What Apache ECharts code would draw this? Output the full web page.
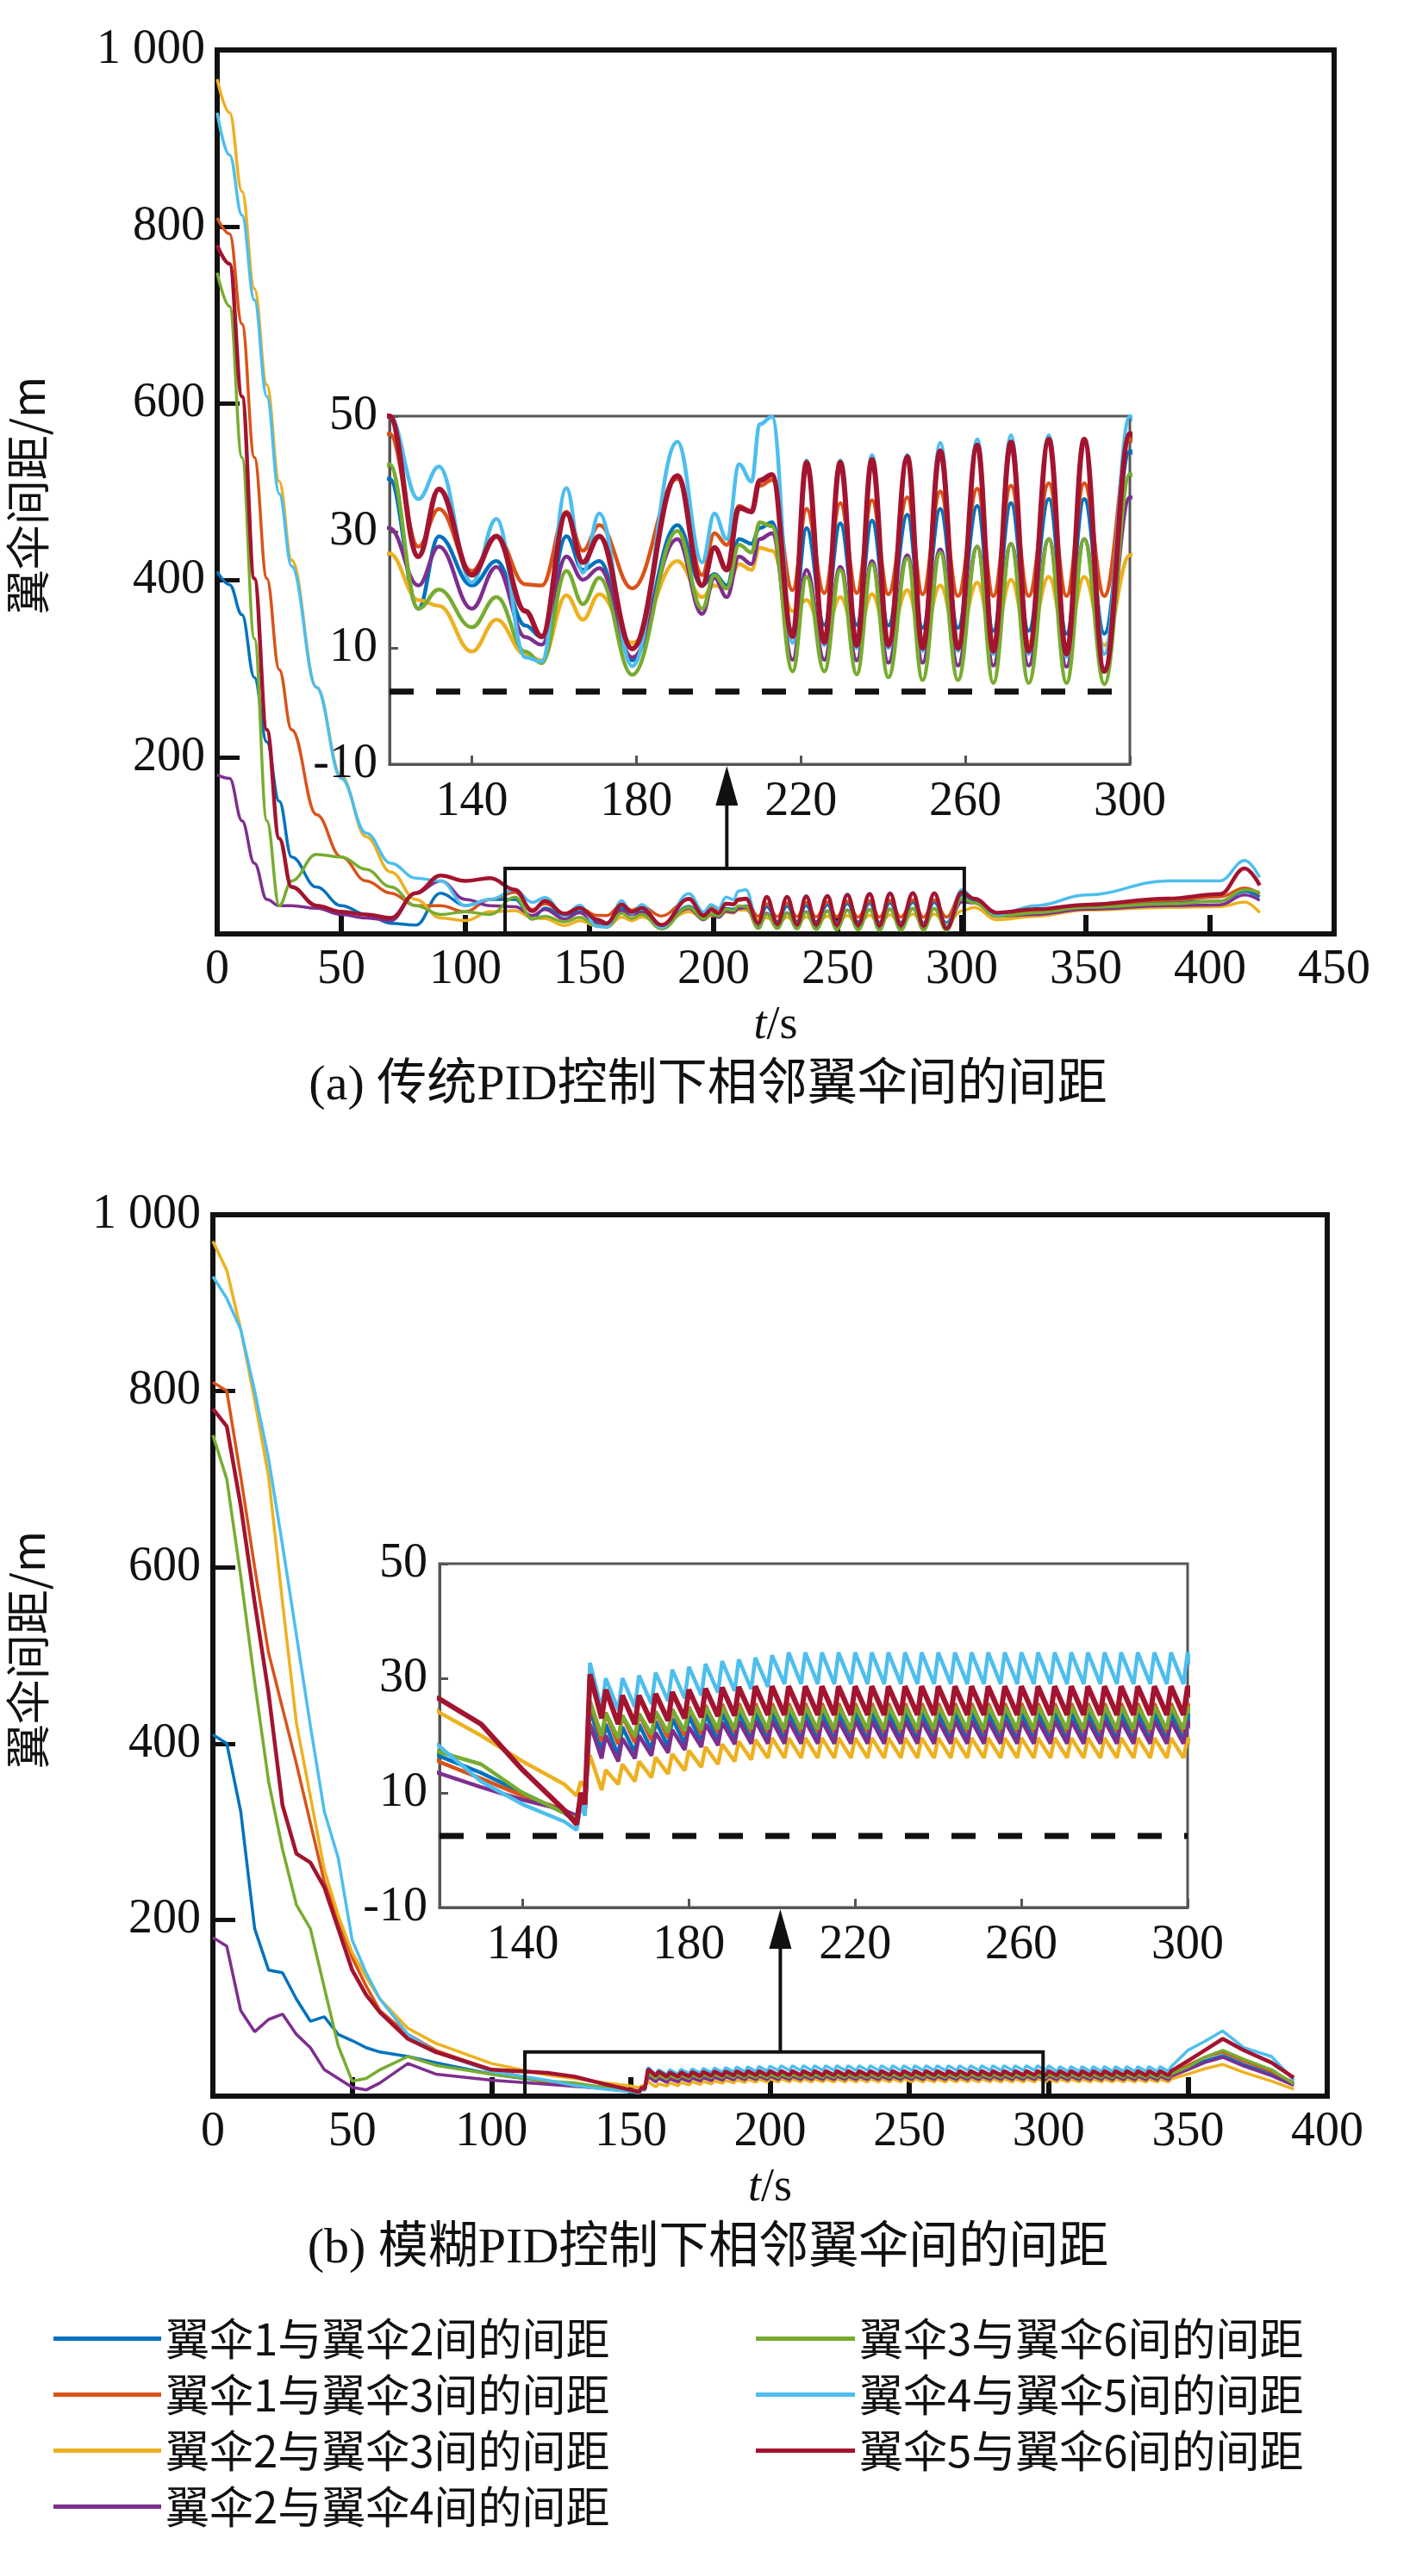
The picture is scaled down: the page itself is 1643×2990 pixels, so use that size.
<!DOCTYPE html>
<html>
<head>
<meta charset="utf-8">
<script src="https://cdn.jsdelivr.net/npm/echarts@6/dist/echarts.min.js"></script>
<style>html,body{margin:0;background:#fff}#c{width:1643px;height:2990px}</style>
</head>
<body>
<div id="c"></div>
<script>
var chart = echarts.init(document.getElementById('c'));

// 系列名称与颜色
var names = ['翼伞1与翼伞2间的间距', '翼伞1与翼伞3间的间距', '翼伞2与翼伞3间的间距', '翼伞2与翼伞4间的间距',
             '翼伞3与翼伞6间的间距', '翼伞4与翼伞5间的间距', '翼伞5与翼伞6间的间距'];
var colors = ['#0072BD', '#D95319', '#EDB120', '#7E2F8E', '#77AC30', '#4DBEEE', '#A2142F'];

// (a) 传统PID 时间点
var tA = [0, 5, 10, 15, 20, 25, 30, 40, 50, 60, 70, 80, 90, 100, 110,
  120, 127, 132, 140, 146, 153, 157, 163, 167, 171, 179, 190, 196, 199, 202, 205, 208, 210, 213, 218,
  221.4, 225.7, 229.6, 233.6, 237.3, 241.3, 245.9, 249.6, 253.9, 258.2, 262.9, 266.8, 271.1, 275.4, 280.3, 284.6, 288.9, 293.8, 300,
  305, 314, 330, 350, 383, 404, 414, 420];
var a12 = [410, 395, 361, 290, 217, 150, 87, 53, 32, 22, 12, 10, 46, 32, 39,
  39.2, 16.8, 29.3, 20.8, 25, 13.9, 11.9, 29.3, 23.5, 25, 7.9, 31.2, 20.8, 22.8, 20.8, 28.8, 28, 30.7, 31.7, 13,
  30.7, 14, 31.5, 14, 32, 13.9, 33, 13.5, 34, 13.5, 34.5, 13, 35, 13, 35.7, 12.5, 35.7, 12.5, 44,
  38, 22, 24, 30, 36, 37, 48, 42];
var a13 = [810, 792, 690, 539, 402, 299, 231, 135, 87, 60, 46, 32, 32, 25, 39,
  47, 27.5, 34, 23.3, 29.3, 21, 20.8, 33.5, 26.8, 31.2, 20.3, 39.2, 22.6, 29.8, 27.8, 34.5, 33.5, 38, 39, 20,
  34, 19.5, 35, 19.5, 35.5, 19.3, 36, 19.3, 37, 19, 37.5, 19, 38, 19, 38.4, 19, 38.4, 19, 46,
  40, 22, 27, 32, 38, 42, 52, 45];
var a23 = [967, 929, 840, 730, 621, 512, 423, 279, 178, 110, 70, 39, 18, 15, 25,
  26.3, 18.3, 17.3, 9.4, 14.9, 8.9, 7.9, 19.1, 14.9, 19.3, 10.9, 25, 18.8, 20.8, 20.3, 24.5, 23.5, 27.3, 26.8, 16.4,
  18.3, 12, 18.8, 11.8, 19.3, 11.5, 20, 11.5, 20.8, 11, 21.3, 11, 21.8, 11, 22.3, 10.8, 22.3, 10.5, 26,
  30, 16, 20, 27, 30, 31, 36, 24];
var a24 = [180, 176, 128, 80, 39, 32, 32, 29, 22, 18, 15, 46, 60, 39, 32,
  30.7, 20.8, 27.5, 16.8, 24, 11.9, 10.6, 25.8, 21.8, 23.8, 8.4, 28.8, 15.9, 22.1, 18.8, 25.8, 24.5, 28.8, 29.8, 8,
  23.5, 8, 24, 7.9, 25, 7.5, 26, 7.5, 27, 7, 27.5, 7, 28, 7, 28.8, 6.8, 28.8, 6.5, 36,
  35, 20, 22, 28, 32, 33, 44, 38];
var a36 = [748, 710, 539, 334, 128, 32, 60, 90, 87, 73, 53, 32, 22, 25, 22,
  41.7, 16.8, 20.1, 13.6, 18.8, 9.4, 7.4, 23.3, 17.6, 22.1, 5.4, 30.2, 16.8, 22.6, 20.3, 27.8, 26.5, 31.7, 31, 6,
  22.3, 6, 23.5, 5.5, 24.5, 5, 25.5, 4.5, 26.5, 4.5, 27.5, 4, 28, 4, 28.8, 4, 28.8, 3.8, 40,
  35, 20, 24, 30, 34, 37, 50, 47];
var a45 = [929, 881, 813, 717, 608, 498, 416, 279, 176, 114, 80, 63, 60, 32, 39,
  50, 35.7, 41.3, 21.3, 32.3, 8.4, 7.7, 37.6, 23, 33.2, 6.9, 45.6, 24.8, 33.2, 28.8, 41.7, 38.7, 48.6, 49.9, 10.9,
  42.4, 10.5, 42.4, 10, 43.3, 10, 43.3, 9.5, 45.4, 9.5, 46, 9, 46.7, 9, 46.7, 8.5, 46, 9, 50,
  40, 22, 32, 44, 60, 60, 83, 64];
var a56 = [779, 758, 608, 402, 231, 108, 53, 32, 25, 22, 18, 46, 66, 60, 63,
  50, 25.8, 37.4, 22.6, 29.3, 16.4, 12, 33.2, 24.8, 29.3, 9.9, 39.7, 20.8, 27.3, 23.5, 34.2, 33.5, 38.9, 39.9, 12,
  42, 11, 42, 10.5, 42.5, 10.5, 43, 10, 44, 10, 45, 9.5, 45.5, 9.5, 46, 9, 46, 6, 47,
  40, 24, 28, 33, 40, 45, 74, 55];

// (b) 模糊PID：前段、锯齿峰值时刻、后段
var tB = [0, 5, 10, 15, 20, 25, 30, 35, 40, 45, 50, 55, 60, 70, 80, 100, 120, 130, 140, 150, 153, 154, 155, 156.2];
var b12 = [410, 400, 323, 190, 143, 140, 110, 85, 90, 70, 63, 55, 50, 45, 38, 25, 16.4, 13.5, 10, 6.5, 5, 9, 7, 25];
var b13 = [810, 800, 703, 600, 503, 440, 377, 310, 243, 200, 157, 125, 97, 70, 52, 30, 15.4, 12.5, 9.5, 7, 5.5, 9, 7, 26];
var b23 = [970, 937, 870, 790, 703, 560, 423, 340, 257, 205, 163, 135, 110, 77, 60, 37, 24, 20, 15.5, 11.5, 9.5, 12, 11, 16.6];
var b24 = [180, 170, 97, 73, 87, 93, 70, 55, 30, 20, 10, 7, 15, 37, 25, 18, 13.4, 11, 8.8, 7, 6, 9, 7, 22];
var b36 = [750, 700, 590, 470, 357, 280, 217, 190, 123, 57, 17, 20, 30, 45, 35, 25, 17.1, 15, 10, 6.5, 5.5, 10, 8, 26];
var b45 = [930, 905, 870, 800, 723, 625, 523, 420, 323, 270, 177, 140, 110, 70, 50, 28, 18.1, 12, 8, 5, 3.5, 8, 6, 32.7];
var b56 = [780, 760, 670, 560, 457, 330, 275, 265, 237, 190, 143, 115, 95, 65, 50, 30, 26.4, 22, 14, 7, 4.5, 10, 8, 30.7];

var toothT = [160, 164, 168, 172, 176, 180, 184, 188, 192, 196, 200, 204, 208, 212, 216, 220, 224, 228, 232, 236,
  240, 244, 248, 252, 256, 260, 264, 268, 272, 276, 280, 284, 288, 292, 296, 300, 304, 308, 312, 316,
  320, 324, 328, 332, 336, 340, 344];
var p12 = [22, 21.5, 22, 22.5, 23, 23.5, 23.8, 24, 24.1, 24.1, 24.1, 24.1, 24.1, 24.1, 24.1, 24.1, 24.1, 24.1, 24.1, 24.1,
  24.1, 24.1, 24.1, 24.1, 24.1, 24.1, 24.1, 24.1, 24.1, 24.1, 24.1, 24.1, 24.1, 24.1, 24.1, 24.1, 24, 24, 24, 24,
  24, 24, 24, 24, 24, 24, 24];
var p13 = [24, 23.5, 23.8, 24.2, 24.6, 25, 25.3, 25.5, 25.6, 25.6, 25.6, 25.6, 25.6, 25.6, 25.6, 25.6, 25.6, 25.6, 25.6, 25.6,
  25.6, 25.6, 25.6, 25.6, 25.6, 25.6, 25.6, 25.6, 25.6, 25.6, 25.6, 25.6, 25.6, 25.6, 25.6, 25.6, 25.5, 25.5, 25.5, 25.5,
  25.5, 25.5, 25.5, 25.5, 25.5, 25.5, 25.5];
var p23 = [14, 15, 15.5, 16.2, 16.8, 17.4, 18, 18.5, 19, 19.3, 19.6, 19.6, 19.6, 19.6, 19.6, 19.6, 19.6, 19.6, 19.6, 19.6,
  19.6, 19.6, 19.6, 19.6, 19.6, 19.6, 19.6, 19.6, 19.6, 19.6, 19.6, 19.6, 19.6, 19.6, 19.6, 19.6, 19.5, 19.5, 19.5, 19.5,
  19.5, 19.5, 19.5, 19.5, 19.5, 19.5, 19.5];
var p24 = [20, 19.5, 20, 20.5, 21, 21.5, 22, 22.3, 22.5, 22.6, 22.6, 22.6, 22.6, 22.6, 22.6, 22.6, 22.6, 22.6, 22.6, 22.6,
  22.6, 22.6, 22.6, 22.6, 22.6, 22.6, 22.6, 22.6, 22.6, 22.6, 22.6, 22.6, 22.6, 22.6, 22.6, 22.6, 22.5, 22.5, 22.5, 22.5,
  22.5, 22.5, 22.5, 22.5, 22.5, 22.5, 22.5];
var p36 = [24, 23.5, 23.8, 24.2, 24.5, 24.8, 25, 25.1, 25.1, 25.1, 25.1, 25.1, 25.1, 25.1, 25.1, 25.1, 25.1, 25.1, 25.1, 25.1,
  25.1, 25.1, 25.1, 25.1, 25.1, 25.1, 25.1, 25.1, 25.1, 25.1, 25.1, 25.1, 25.1, 25.1, 25.1, 25.1, 25, 25, 25, 25,
  25, 25, 25, 25, 25, 25, 25];
var p45 = [30, 30, 30.5, 31, 31.5, 32, 32.5, 33, 33.3, 33.6, 34, 34.5, 34.5, 34.5, 34.5, 34.5, 34.5, 34.5, 34.5, 34.5,
  34.5, 34.5, 34.5, 34.5, 34.5, 34.5, 34.5, 34.5, 34.5, 34.5, 34.5, 34.5, 34.5, 34.5, 34.5, 34.5, 33.5, 33.5, 33.5, 33.5,
  33.5, 33.5, 33.5, 33.5, 33.5, 33.5, 33.5];
var p56 = [28, 27, 27, 27.3, 27.6, 28, 28.2, 28.4, 28.5, 28.6, 28.6, 28.6, 28.6, 28.6, 28.6, 28.6, 28.6, 28.6, 28.6, 28.6,
  28.6, 28.6, 28.6, 28.6, 28.6, 28.6, 28.6, 28.6, 28.6, 28.6, 28.6, 28.6, 28.6, 28.6, 28.6, 28.6, 28.5, 28.5, 28.5, 28.5,
  28.5, 28.5, 28.5, 28.5, 28.5, 28.5, 28.5];
var toothDepth = [5, 5, 3.5, 4, 4, 5.5, 5];

var tBpost = [350, 356, 362.5, 370, 380, 388];
var q12 = [32, 40, 46, 36, 25, 13];
var q13 = [35, 44, 50, 40, 28, 15];
var q23 = [25, 31, 36, 27, 17, 8];
var q24 = [30, 38, 44, 34, 23, 12];
var q36 = [33, 44, 52, 42, 30, 14];
var q45 = [52, 62, 74, 55, 45, 18];
var q56 = [40, 52, 65, 52, 38, 21];

var safeLine = 2.5;
var ticksA = [0, 450, 50];
var ticksB = [0, 400, 50];
var insetTicks = [140, 180, 220, 260, 300];

var seriesA = [a12, a13, a23, a24, a36, a45, a56];
var seriesB = [b12, b13, b23, b24, b36, b45, b56];
var peaksB = [p12, p13, p23, p24, p36, p45, p56];
var postB = [q12, q13, q23, q24, q36, q45, q56];

function zipA(v) { return tA.map(function (t, i) { return [t, v[i]]; }); }
function buildB(k) {
  var d = tB.map(function (t, i) { return [t, seriesB[k][i]]; });
  toothT.forEach(function (t, i) {
    d.push([t - 1, peaksB[k][i] - toothDepth[k]]);
    d.push([t, peaksB[k][i]]);
  });
  tBpost.forEach(function (t, i) { d.push([t, postB[k][i]]); });
  return d;
}

var serif = 'Liberation Serif';
var grids = [
  { left: 252, top: 58, width: 1296, height: 1026, show: true, borderColor: '#111', borderWidth: 6, z: 0 },
  { left: 452, top: 483, width: 859, height: 404, show: true, backgroundColor: '#fff', borderColor: '#555', borderWidth: 3, z: 10 },
  { left: 247, top: 1410, width: 1293, height: 1023, show: true, borderColor: '#111', borderWidth: 6, z: 0 },
  { left: 510, top: 1815, width: 868, height: 399, show: true, backgroundColor: '#fff', borderColor: '#555', borderWidth: 3, z: 10 }
];

function mainX(g, range) {
  return {
    gridIndex: g, type: 'value', min: range[0], max: range[1], interval: range[2],
    axisLine: { onZero: false, lineStyle: { color: '#111', width: 6 } },
    axisTick: { inside: true, length: 22, lineStyle: { color: '#111', width: 6 } },
    splitLine: { show: false },
    axisLabel: { fontFamily: serif, fontSize: 56, color: '#111', margin: 14 },
    name: '{i|t}/s', nameLocation: 'middle', nameGap: 80,
    nameTextStyle: { fontFamily: serif, fontSize: 54, color: '#111', rich: { i: { fontStyle: 'italic', fontFamily: serif, fontSize: 54 } } }
  };
}
function mainY(g) {
  return {
    gridIndex: g, type: 'value', min: 0, max: 1000, interval: 200,
    axisLine: { lineStyle: { color: '#111', width: 6 } },
    axisTick: { inside: true, length: 26, lineStyle: { color: '#111', width: 5 } },
    splitLine: { show: false },
    axisLabel: { fontFamily: serif, fontSize: 56, color: '#111', margin: 14,
      formatter: function (v) { return v === 0 ? '' : (v === 1000 ? '1 000' : v); } }
  };
}
function insetX(g) {
  return {
    gridIndex: g, type: 'value', min: 120, max: 300, z: 12,
    axisLine: { onZero: false, lineStyle: { color: '#555', width: 3 } },
    axisTick: { inside: true, length: 10, customValues: insetTicks, lineStyle: { color: '#555', width: 3 } },
    splitLine: { show: false },
    axisLabel: { fontFamily: serif, fontSize: 56, color: '#111', margin: 16, customValues: insetTicks }
  };
}
function insetY(g) {
  return {
    gridIndex: g, type: 'value', min: -10, max: 50, interval: 20, z: 12,
    axisLine: { lineStyle: { color: '#555', width: 3 } },
    axisTick: { inside: true, length: 10, lineStyle: { color: '#555', width: 3 } },
    splitLine: { show: false },
    axisLabel: { fontFamily: serif, fontSize: 56, color: '#111', margin: 14 }
  };
}

var series = [];
names.forEach(function (n, k) {
  var wMain = k === 6 ? 4.5 : 3.5, wIn = k === 6 ? 6 : 4.5;
  var dA = zipA(seriesA[k]), dB = buildB(k);
  series.push({ name: n, type: 'line', xAxisIndex: 0, yAxisIndex: 0, data: dA, smooth: 0.4, smoothMonotone: 'x',
    showSymbol: false, z: 3, lineStyle: { color: colors[k], width: wMain }, itemStyle: { color: colors[k] } });
  series.push({ name: n, type: 'line', xAxisIndex: 1, yAxisIndex: 1, data: dA, smooth: 0.4, smoothMonotone: 'x',
    showSymbol: false, z: 13, lineStyle: { color: colors[k], width: wIn }, itemStyle: { color: colors[k] } });
  series.push({ name: n, type: 'line', xAxisIndex: 2, yAxisIndex: 2, data: dB,
    showSymbol: false, z: 3, lineStyle: { color: colors[k], width: wMain }, itemStyle: { color: colors[k] } });
  series.push({ name: n, type: 'line', xAxisIndex: 3, yAxisIndex: 3, data: dB,
    showSymbol: false, z: 13, lineStyle: { color: colors[k], width: wIn }, itemStyle: { color: colors[k] } });
});
[1, 3].forEach(function (g) {
  series.push({ type: 'line', xAxisIndex: g, yAxisIndex: g, data: [[120, safeLine], [300, safeLine]], showSymbol: false, z: 14,
    lineStyle: { color: '#111', width: 7, type: [28, 26] }, silent: true });
});

var legendText = { fontFamily: 'Noto Sans CJK SC', fontSize: 51, color: '#111' };
var option = {
  animation: false,
  backgroundColor: '#fff',
  grid: grids,
  xAxis: [mainX(0, ticksA), insetX(1), mainX(2, ticksB), insetX(3)],
  yAxis: [mainY(0), insetY(1), mainY(2), insetY(3)],
  legend: [
    { data: names.slice(0, 4), orient: 'vertical', left: 57, top: 2684, icon: 'rect', itemWidth: 125, itemHeight: 5,
      itemGap: 14, textStyle: legendText },
    { data: names.slice(4), orient: 'vertical', left: 872, top: 2684, icon: 'rect', itemWidth: 115, itemHeight: 5,
      itemGap: 14, textStyle: legendText }
  ],
  series: series
};
chart.setOption(option);

// 放大框与箭头
function zoomMarks(gMain, gIn, box, arrowT) {
  var p0 = chart.convertToPixel({ xAxisIndex: gMain, yAxisIndex: gMain }, [box[0], 0]);
  var p1 = chart.convertToPixel({ xAxisIndex: gMain, yAxisIndex: gMain }, [box[1], box[2]]);
  var ax = chart.convertToPixel({ xAxisIndex: gIn, yAxisIndex: gIn }, [arrowT, -10]);
  return [
    { type: 'rect', z: 20, shape: { x: p0[0], y: p1[1], width: p1[0] - p0[0], height: p0[1] - p1[1] },
      style: { fill: 'none', stroke: '#111', lineWidth: 4 } },
    { type: 'line', z: 20, shape: { x1: ax[0], y1: p1[1], x2: ax[0], y2: ax[1] + 30 }, style: { stroke: '#111', lineWidth: 4 } },
    { type: 'polygon', z: 20, shape: { points: [[ax[0], ax[1] + 2], [ax[0] - 13, ax[1] + 48], [ax[0] + 13, ax[1] + 48]] },
      style: { fill: '#111' } }
  ];
}
var cap = { fontFamily: 'Liberation Serif, Noto Sans CJK SC', fontSize: 58, fill: '#111' };
var yName = { fontFamily: 'Noto Sans CJK SC', fontSize: 52, fill: '#111' };
var g = zoomMarks(0, 1, [116, 301, 74], 202).concat(zoomMarks(2, 3, [112, 298, 50], 202));
g.push({ type: 'text', left: 'center', top: 1232, style: Object.assign({ text: '(a) 传统PID控制下相邻翼伞间的间距' }, cap) });
g.push({ type: 'text', left: 'center', top: 2582, style: Object.assign({ text: '(b) 模糊PID控制下相邻翼伞间的间距' }, cap) });
g.push({ type: 'text', x: 6, y: 575, rotation: Math.PI / 2, style: Object.assign({ text: '翼伞间距/m', align: 'center', verticalAlign: 'top' }, yName) });
g.push({ type: 'text', x: 6, y: 1915, rotation: Math.PI / 2, style: Object.assign({ text: '翼伞间距/m', align: 'center', verticalAlign: 'top' }, yName) });
chart.setOption({ graphic: g });
</script>
</body>
</html>
